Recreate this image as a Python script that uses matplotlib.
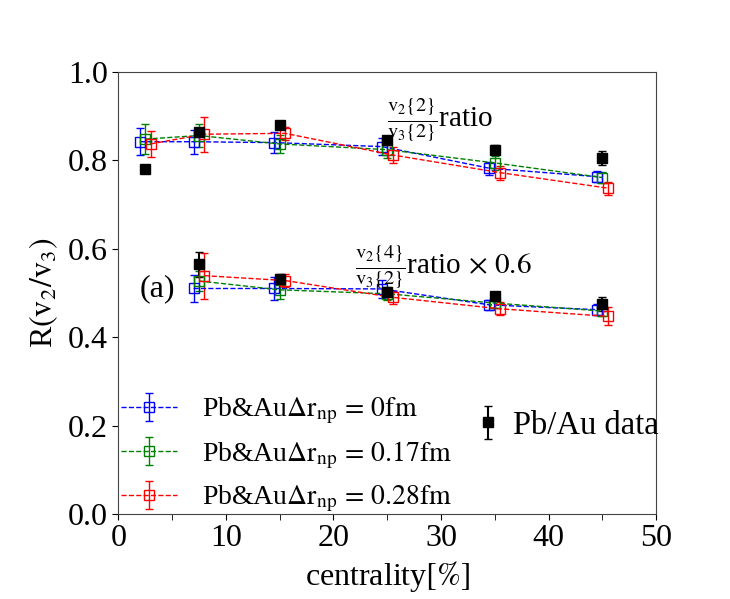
import matplotlib
matplotlib.use("Agg")
import matplotlib.pyplot as plt

plt.rcParams['font.family'] = ['Liberation Serif', 'DejaVu Serif']
plt.rcParams['mathtext.fontset'] = 'stix'

# centrality bins
cent_hi = [2.5, 7.5, 15, 25, 35, 45]
cent_lo = [7.5, 15, 25, 35, 45]
shift = {"blue": -0.5, "green": 0.0, "red": 0.5}

# v2{2}/v3{2} ratio
hi_blue = [0.842, 0.842, 0.840, 0.831, 0.782, 0.763]
hi_blue_err = [0.030, 0.027, 0.023, 0.020, 0.015, 0.012]
hi_green = [0.848, 0.856, 0.837, 0.824, 0.794, 0.761]
hi_green_err = [0.033, 0.025, 0.020, 0.018, 0.015, 0.012]
hi_red = [0.837, 0.859, 0.861, 0.812, 0.772, 0.737]
hi_red_err = [0.030, 0.040, 0.015, 0.018, 0.016, 0.015]
hi_data = [0.781, 0.864, 0.879, 0.845, 0.824, 0.805]
hi_data_err = [0.007, 0.008, 0.006, 0.008, 0.010, 0.015]

# v2{4}/v3{2} ratio x 0.6
lo_blue = [0.510, 0.510, 0.509, 0.473, 0.462]
lo_blue_err = [0.031, 0.025, 0.020, 0.012, 0.012]
lo_green = [0.527, 0.507, 0.498, 0.477, 0.459]
lo_green_err = [0.022, 0.020, 0.015, 0.012, 0.012]
lo_red = [0.539, 0.528, 0.490, 0.464, 0.447]
lo_red_err = [0.052, 0.015, 0.015, 0.015, 0.020]
lo_data = [0.565, 0.532, 0.502, 0.492, 0.475]
lo_data_err = [0.028, 0.010, 0.008, 0.008, 0.015]

labels = [r"Pb&Au$\Delta\mathrm{r_{np}}\,=\,0\mathrm{fm}$",
          r"Pb&Au$\Delta\mathrm{r_{np}}\,=\,0.17\mathrm{fm}$",
          r"Pb&Au$\Delta\mathrm{r_{np}}\,=\,0.28\mathrm{fm}$"]

fig = plt.figure(figsize=(7.3, 5.99), dpi=100)
ax = fig.add_axes([0.162, 0.142, 0.737, 0.738])

model_hi = [(hi_blue, hi_blue_err, "blue"), (hi_green, hi_green_err, "green"), (hi_red, hi_red_err, "red")]
model_lo = [(lo_blue, lo_blue_err, "blue"), (lo_green, lo_green_err, "green"), (lo_red, lo_red_err, "red")]

handles = []
for (y, e, c), lab in zip(model_hi, labels):
    x = [v + shift[c] for v in cent_hi]
    h = ax.errorbar(x, y, yerr=e, color=c, ls="--", lw=1, marker="s", mfc="none",
                    ms=7, capsize=3, label=lab)
    handles.append(h)
for y, e, c in model_lo:
    x = [v + shift[c] for v in cent_lo]
    ax.errorbar(x, y, yerr=e, color=c, ls="--", lw=1, marker="s", mfc="none",
                ms=7, capsize=3)

hd = ax.errorbar(cent_hi, hi_data, yerr=hi_data_err, color="black", ls="none",
                 marker="s", ms=6.5, capsize=3, label="Pb/Au data")
ax.errorbar(cent_lo, lo_data, yerr=lo_data_err, color="black", ls="none",
            marker="s", ms=6.5, capsize=3)

ax.text(25.0, 0.89, r"$\frac{\mathrm{v_2\{2\}}}{\mathrm{v_3\{2\}}}$ratio", fontsize=21,
        ha="left", va="center")
ax.text(22.0, 0.558, r"$\frac{\mathrm{v_2\{4\}}}{\mathrm{v_3\{2\}}}$ratio$\,\times\,0.6$", fontsize=21,
        ha="left", va="center")
ax.text(2.0, 0.51, "(a)", fontsize=23, ha="left", va="center")

leg1 = ax.legend(handles=handles, loc="lower left", bbox_to_anchor=(0.0, -0.007),
                 frameon=False, fontsize=20, handlelength=2.0, handletextpad=0.9,
                 borderpad=0.1, borderaxespad=0.0, labelspacing=0.46)
ax.add_artist(leg1)
ax.legend(handles=[hd], loc="center left", bbox_to_anchor=(0.645, 0.2), frameon=False,
          fontsize=23.5, handlelength=0.6, handletextpad=0.45, borderaxespad=0.0)

ax.set_xlim(0, 50)
ax.set_ylim(0, 1.0)
ax.set_xticks([0, 10, 20, 30, 40, 50])
ax.set_xticks([5, 15, 25, 35, 45], minor=True)
ax.set_yticks([0, 0.2, 0.4, 0.6, 0.8, 1.0])
ax.tick_params(labelsize=23)
ax.tick_params(which="both", length=4)
ax.set_xlabel(r"centrality$[\%]$", fontsize=23, labelpad=4)
ax.set_ylabel(r"R$(\mathrm{v_2/v_3})$", fontsize=23, labelpad=6)
for s in ax.spines.values():
    s.set_color("#444444")

fig.savefig("out.png", dpi=100)
